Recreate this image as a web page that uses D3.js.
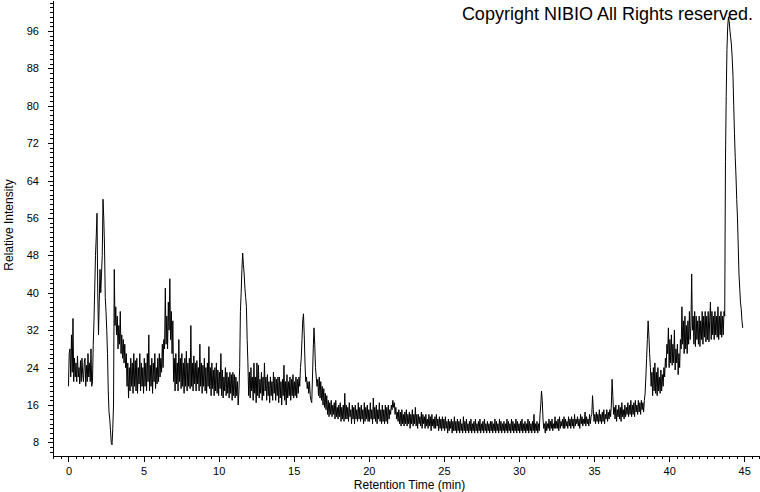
<!DOCTYPE html>
<html lang="en">
<meta charset="utf-8">
<head>
<style>
  body { margin: 0; background: #fff; }
  text { font-family: "Liberation Sans", Arial, sans-serif; fill: #000; }
</style>
</head>
<body>
<div id="my_dataviz"></div>

<script src="https://d3js.org/d3.v7.min.js"></script>

<script type="text/javascript">

// sampled trace: one value every 0.05 min starting at 0 min
var startTime = 0, timeStep = 0.05;

// Relative Intensity (10 values per half minute)
var intensity = [
  20, 27, 28, 22, 31, 23, 34.5, 21, 26, 22,              // 0.0
  25, 21, 26.5, 22, 24, 20.5, 25.5, 21, 26, 22.5,        // 0.5
  21, 25, 26, 20, 24.5, 21, 27, 22, 25, 21,              // 1.0
  28, 20, 21, 29, 34, 41, 48, 52, 57, 40,                // 1.5
  31, 38, 45, 40, 44, 48, 60, 56, 50, 39,                // 2.0
  36, 32, 27, 19, 14.5, 13, 10.5, 8, 7.5, 11,            // 2.5
  16, 45, 33, 37, 31, 35, 28, 33, 29, 36,                // 3.0
  27, 31, 26, 30, 25, 29, 24, 27, 20, 25,                // 3.5
  17.5, 24, 19, 26, 20, 25, 18.5, 27, 20, 25.5,          // 4.0
  19, 26, 18.5, 24, 20.5, 27, 19, 25, 20, 24,            // 4.5
  18.5, 26, 20, 25, 19, 27, 21, 31, 19, 24.5,            // 5.0
  20, 26, 18.5, 25, 21, 27, 19.5, 24, 20.5, 26,          // 5.5
  21, 27, 22, 26, 23, 29, 24, 30, 28, 41,                // 6.0
  29, 35, 28, 38, 32, 43, 30, 36, 27, 34,                // 6.5
  21, 26, 19, 27, 20.5, 25, 19, 30, 21, 26,              // 7.0
  19.5, 27, 20, 25, 18.5, 26, 20, 27.5, 19, 25,          // 7.5
  20, 26, 19.5, 33, 20, 25, 19, 26.5, 20.5, 25,          // 8.0
  19, 25.5, 20.5, 24, 19, 29, 20, 25, 18.5, 24.5,        // 8.5
  20, 26, 19, 24, 18.5, 25, 20, 28.5, 19.5, 24,          // 9.0
  18, 25, 19.5, 23.5, 18, 24, 19, 25, 18.5, 23.5,        // 9.5
  18, 23, 19.5, 27, 18, 23.5, 17.5, 22, 19, 24,          // 10.0
  18, 23, 18.5, 22, 17.5, 23, 18.5, 22.5, 17, 23,        // 10.5
  18, 22.5, 17.5, 22, 18, 21, 16, 19, 24, 36,            // 11.0
  40, 45, 48.5, 46, 44, 41, 39, 37, 30, 25,              // 11.5
  18, 23, 17.5, 24, 19, 22, 17, 25, 18.5, 22,            // 12.0
  16.5, 25, 18, 24.5, 17.5, 21.5, 18.5, 23, 17, 22,      // 12.5
  18, 25, 19, 22, 17, 22.5, 18, 21, 16.5, 22,            // 13.0
  18, 21, 17, 23, 18.5, 22, 17, 21.5, 18, 22,            // 13.5
  16.5, 22, 17.5, 21, 16, 21.5, 18, 24.5, 17, 21,        // 14.0
  16, 22.5, 17.5, 21, 18, 22, 17, 21.5, 18, 22.5,        // 14.5
  17.5, 21, 18, 22, 17.5, 21.5, 18.5, 22, 20, 24,        // 15.0
  26, 30, 34, 35.5, 31, 25, 21, 22, 19.5, 21,            // 15.5
  18.5, 21, 18, 17, 16.5, 22, 28, 32.5, 29, 24,          // 16.0
  22, 20, 21.5, 18, 22, 17.5, 21, 17, 20, 16,            // 16.5
  19.5, 15.5, 18.5, 15, 18, 14, 17, 13.5, 16.5, 14,      // 17.0
  17, 13.5, 16, 14, 16.5, 13, 17, 13.5, 15.5, 13,        // 17.5
  16, 13.5, 16.5, 12.5, 15.5, 13, 16, 12.5, 18.5, 13,    // 18.0
  16, 13, 15.5, 12.5, 16.5, 13.5, 15, 12, 16, 13,        // 18.5
  15.5, 12, 16, 13, 15, 12.5, 16.5, 13, 15.5, 12.5,      // 19.0
  16, 13, 15, 12, 16.5, 12.5, 15.5, 13, 16, 12.5,        // 19.5
  15, 12.5, 16.5, 13, 15, 12, 17.5, 13, 15.5, 12.5,      // 20.0
  16, 12, 15, 13, 16.5, 12.5, 15, 12, 16, 12.5,          // 20.5
  15, 12, 16, 12.5, 15.5, 12, 16, 13, 15, 14,            // 21.0
  16, 15, 17, 15.5, 16.5, 14, 15.5, 13, 14.5, 12.5,      // 21.5
  15, 12, 14.5, 11.5, 15, 12, 14, 11.5, 14.5, 12,        // 22.0
  15, 11.5, 14, 12, 14.5, 11, 14, 12, 15, 11.5,          // 22.5
  14, 12, 15.5, 11.5, 14, 11, 14, 12, 13.5, 11.5,        // 23.0
  14.5, 11, 14, 12, 13.5, 11, 14, 11.5, 13, 11,          // 23.5
  14, 11.5, 13.5, 10.5, 14, 11.5, 13, 11, 13.5, 11,      // 24.0
  14, 11.5, 13, 10.5, 13.5, 11, 13, 10.5, 13.5, 11,      // 24.5
  13, 10.5, 13.5, 11, 12.5, 10, 13, 10.5, 12.5, 11,      // 25.0
  13, 10, 12.5, 10.5, 13.5, 10.5, 12.5, 10, 13, 10.5,    // 25.5
  12.5, 10, 13, 10.5, 12, 10, 13.5, 10.5, 12.5, 10,      // 26.0
  13, 10.5, 12, 10, 12.5, 10.5, 13, 10, 12, 10.5,        // 26.5
  12.5, 10, 13, 10.5, 12, 10, 12.5, 10.5, 13, 10,        // 27.0
  12, 10.5, 12.5, 10, 13, 10.5, 12, 10, 12.5, 10.5,      // 27.5
  12, 10, 12.5, 10.5, 12.5, 10, 12, 10.5, 13, 10,        // 28.0
  12.5, 10.5, 12, 10, 13, 10.5, 12.5, 10, 12, 10.5,      // 28.5
  12.5, 10, 12, 10.5, 13, 10, 12.5, 10.5, 12, 10,        // 29.0
  13, 10.5, 12.5, 10, 12, 10.5, 13, 10, 12.5, 10.5,      // 29.5
  12, 10, 12.5, 10.5, 13, 10, 12, 10.5, 12.5, 10,        // 30.0
  12, 10.5, 13, 10, 12.5, 10.5, 12, 10, 12.5, 10.5,      // 30.5
  14, 10, 12, 10.5, 12.5, 10, 12, 10.5, 14, 16,          // 31.0
  19, 17, 13, 11, 12, 10, 12.5, 10.5, 12, 11,            // 31.5
  13, 10.5, 12.5, 11, 13, 10.5, 12, 11, 13.5, 11,        // 32.0
  12.5, 11, 13, 10.5, 13.5, 11, 12.5, 11.5, 13, 11,      // 32.5
  13.5, 11, 13, 11.5, 12.5, 11, 13.5, 11.5, 13, 11,      // 33.0
  13.5, 11.5, 13, 11, 14, 11.5, 13, 12, 13.5, 11.5,      // 33.5
  13, 11, 14, 12, 13.5, 11.5, 13, 12, 14.5, 11.5,        // 34.0
  13.5, 12, 13, 11.5, 14, 12, 13.5, 14, 18, 15,          // 34.5
  12.5, 14, 12, 14.5, 12.5, 14, 12, 15, 12.5, 14,        // 35.0
  12, 14.5, 12.5, 15, 12, 14, 13, 15, 12.5, 14.5,        // 35.5
  13, 15, 13.5, 16, 21.5, 18, 14, 15.5, 13, 16,          // 36.0
  12.5, 15, 13.5, 16, 13, 15.5, 12.5, 16.5, 13.5, 15,    // 36.5
  13, 16, 13.5, 15.5, 14, 16.5, 13.5, 16, 14, 17,        // 37.0
  13.5, 16, 14, 16.5, 13.5, 17, 14.5, 16, 14, 17,        // 37.5
  14.5, 16.5, 14, 17, 15, 16.5, 14.5, 17, 18.5, 22,      // 38.0
  26, 30, 34, 31, 27, 24, 20, 23, 18, 24,                // 38.5
  19, 25, 18.5, 23, 18, 24, 19, 22, 18.5, 23.5,          // 39.0
  19, 22.5, 20, 24, 22, 26, 24, 29, 27, 32.5,            // 39.5
  24, 30, 25, 31, 24.5, 29, 25, 32, 23.5, 28,            // 40.0
  25, 29, 22.5, 27, 24, 30, 28, 37, 29, 34,              // 40.5
  27, 35, 28, 33, 27, 34, 29, 36, 30, 33,                // 41.0
  44, 32, 35, 29, 36, 28.5, 35, 30, 34, 29,              // 41.5
  35, 28.5, 34, 30, 36, 29, 35, 30.5, 36, 29.5,          // 42.0
  35, 30, 36, 29.5, 34, 38, 30, 36, 31, 35,              // 42.5
  30, 36, 31, 35, 30.5, 37, 30, 35, 31, 36,              // 43.0
  30.5, 35, 31, 36, 35, 68, 82, 92, 97, 99,              // 43.5
  98, 96, 94.5, 93, 90, 86.5, 80, 74, 69, 65,            // 44.0
  60, 56, 50, 44, 41, 38, 36.5, 34, 32.5                 // 44.5
];

// axis ticks and labels
var xTickLabels = [0, 5, 10, 15, 20, 25, 30, 35, 40, 45];
var yTickLabels = [8, 16, 24, 32, 40, 48, 56, 64, 72, 80, 88, 96];

var titleText = "Copyright NIBIO All Rights reserved.";
var xTitle = "Retention Time (min)";
var yTitle = "Relative Intensity";

var width = 760, height = 492;
var plot = {left: 53, right: 760, top: 0, bottom: 456};

var svg = d3.select("#my_dataviz")
  .append("svg")
  .attr("width", width)
  .attr("height", height);

var x = d3.scaleLinear()
  .domain([-1.03, 46.05])
  .range([plot.left, plot.right]);

var y = d3.scaleLinear()
  .domain([5.1, 102.6])
  .range([plot.bottom, plot.top]);

// X axis: minor ticks every 0.5 min, labelled ticks every 5 min
svg.append("g")
  .attr("transform", "translate(0," + plot.bottom + ")")
  .attr("shape-rendering", "crispEdges")
  .call(d3.axisBottom(x)
    .tickValues(d3.range(-1, 46.01, 0.5))
    .tickSize(3)
    .tickSizeOuter(0)
    .tickFormat(""));

svg.append("g")
  .attr("transform", "translate(0," + plot.bottom + ")")
  .attr("shape-rendering", "crispEdges")
  .call(d3.axisBottom(x)
    .tickValues(xTickLabels)
    .tickSize(6)
    .tickSizeOuter(0)
    .tickPadding(5))
  .call(function(g) { g.select(".domain").remove(); })
  .selectAll("text")
    .style("font-size", "11px")
    .style("font-family", "'Liberation Sans', Arial, sans-serif");

// Y axis: minor ticks every unit, labelled every 8
svg.append("g")
  .attr("transform", "translate(" + plot.left + ",0)")
  .attr("shape-rendering", "crispEdges")
  .call(d3.axisLeft(y)
    .tickValues(d3.range(6, 103, 1))
    .tickSize(3)
    .tickSizeOuter(0)
    .tickFormat(""));

svg.append("g")
  .attr("transform", "translate(" + plot.left + ",0)")
  .attr("shape-rendering", "crispEdges")
  .call(d3.axisLeft(y)
    .tickValues(yTickLabels)
    .tickSize(5)
    .tickSizeOuter(0)
    .tickPadding(9))
  .call(function(g) { g.select(".domain").remove(); })
  .selectAll("text")
    .style("font-size", "11px")
    .style("font-family", "'Liberation Sans', Arial, sans-serif");

svg.selectAll(".domain, .tick line").attr("stroke", "#000");

// the trace
var line = d3.line()
  .x(function(d, i) { return x(startTime + i * timeStep); })
  .y(function(d) { return y(d); });

svg.append("path")
  .datum(intensity)
  .attr("fill", "none")
  .attr("stroke", "#000")
  .attr("stroke-width", 1)
  .attr("d", line);

// titles
svg.append("text")
  .attr("x", 753)
  .attr("y", 20)
  .attr("text-anchor", "end")
  .style("font-size", "18px")
  .text(titleText);

svg.append("text")
  .attr("x", (plot.left + plot.right) / 2 + 3)
  .attr("y", 489)
  .attr("text-anchor", "middle")
  .style("font-size", "12px")
  .text(xTitle);

svg.append("text")
  .attr("transform", "translate(13," + 225 + ") rotate(-90)")
  .attr("text-anchor", "middle")
  .style("font-size", "12px")
  .text(yTitle);

</script>
</body>
</html>
